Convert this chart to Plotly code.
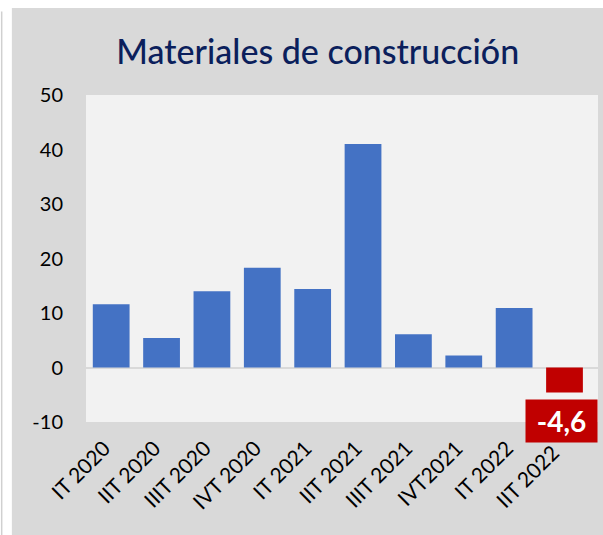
import plotly.graph_objects as go

# Data
quarters = ["IT 2020", "IIT 2020", "IIIT 2020", "IVT 2020", "IT 2021",
            "IIT 2021", "IIIT 2021", "IVT2021", "IT 2022", "IIT 2022*"]
tick_labels = ["IT 2020", "IIT 2020", "IIIT 2020", "IVT 2020", "IT 2021",
               "IIT 2021", "IIIT 2021", "IVT2021", "IT 2022", "IIT 2022<sup>*</sup>"]
values = [11.6, 5.4, 14.0, 18.3, 14.4, 41.0, 6.1, 2.2, 10.9, -4.6]
y_ticks = [-10, 0, 10, 20, 30, 40, 50]
y_tick_text = ["-10", "0", "10", "20", "30", "40", "50"]

bar_colors = ['#4472c4'] * (len(values) - 1) + ['#c00000']

fig = go.Figure()

fig.add_trace(go.Bar(
    x=quarters,
    y=values,
    marker=dict(color=bar_colors, line=dict(width=0)),
    showlegend=False,
))

# highlighted label for the last quarter
fig.add_annotation(
    x=quarters[-1], y=-9.8,
    text="<b>-4,6</b>",
    showarrow=False,
    xanchor='center', yanchor='middle',
    xshift=-3,
    width=63, height=34,
    font=dict(family="Lato", size=28, color='white'),
    bgcolor='#c00000',
    borderpad=4,
)

# gray panel + light plot area
fig.add_shape(type='rect', xref='paper', yref='paper',
              x0=-0.1448, x1=1.1, y0=-0.36, y1=1.266,
              fillcolor='#d9d9d9', line=dict(width=0), layer='below')
fig.add_shape(type='rect', xref='paper', yref='paper',
              x0=0, x1=1, y0=0, y1=1,
              fillcolor='#f2f2f2', line=dict(width=0), layer='below')
fig.add_shape(type='line', xref='paper', yref='paper',
              x0=-0.1647, x1=-0.1647, y0=-0.36, y1=1.255,
              line=dict(color='#d0d0d0', width=1.5), layer='below')

fig.update_layout(
    title=dict(text="Materiales de construcción", x=0.527, xanchor='center',
               y=0.903, yanchor='middle',
               font=dict(family="Lato", size=34, color='#0b1f5c', weight=500)),
    width=603, height=535, autosize=False,
    margin=dict(l=86, r=5, t=95, b=113, autoexpand=False),
    paper_bgcolor='white',
    plot_bgcolor='rgba(0,0,0,0)',
    bargap=0.27,
    font=dict(family="Lato", size=20, color='black'),
    xaxis=dict(
        tickmode='array', tickvals=quarters, ticktext=tick_labels,
        tickangle=-45, showgrid=False, zeroline=False, showline=False,
        tickfont=dict(size=21), automargin=False,
        ticklabelstandoff=9, ticklabelshift=-7,
    ),
    yaxis=dict(
        range=[-10, 50], tickvals=y_ticks, ticktext=y_tick_text, showgrid=False,
        zeroline=True, zerolinecolor='#d9d9d9', zerolinewidth=2,
        showline=False, ticklabelstandoff=22, automargin=False,
    ),
)

fig.write_html(
    "out.html",
    config={'displayModeBar': False, 'responsive': False},
    post_script=("document.body.style.margin='0';"
                 "document.body.style.overflow='hidden';"
                 "document.documentElement.style.overflow='hidden';"),
)
